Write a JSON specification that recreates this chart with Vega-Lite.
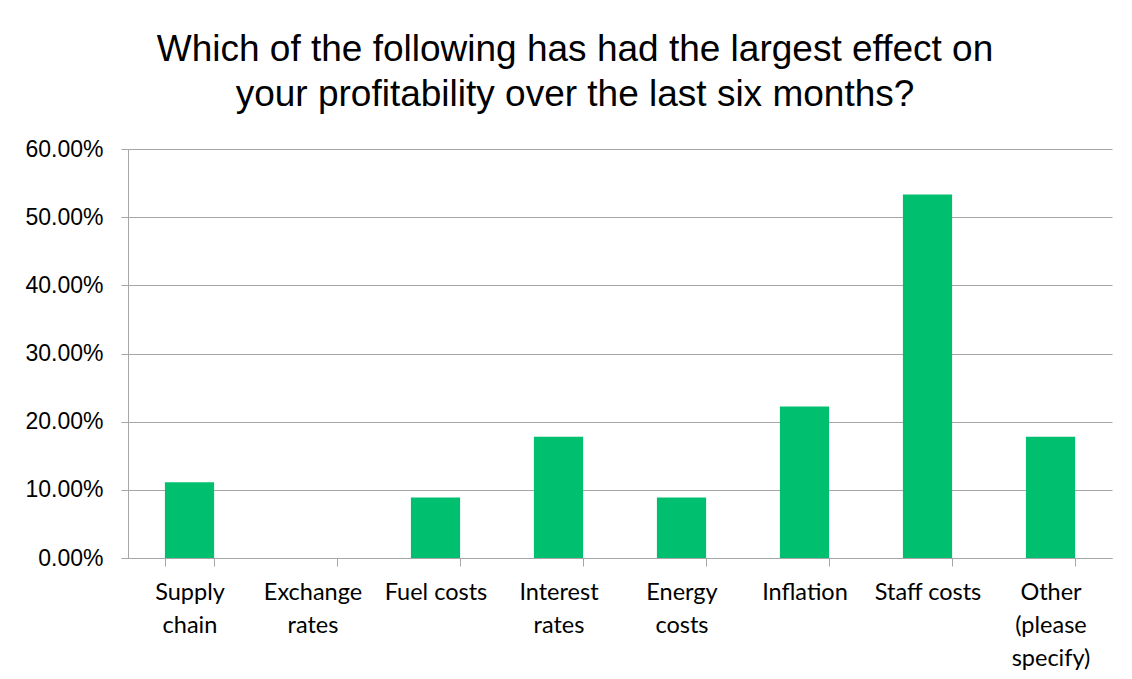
{
  "$schema": "https://vega.github.io/schema/vega-lite/v6.json",
  "width": 984,
  "height": 409,
  "autosize": {"type": "none"},
  "padding": {"left": 128, "top": 149, "right": 20, "bottom": 121},
  "background": "white",
  "title": {
    "text": "Which of the following has had the largest effect on",
    "subtitle": "your profitability over the last six months?",
    "font": "Liberation Sans",
    "fontSize": 37,
    "fontWeight": "normal",
    "color": "black",
    "subtitleFont": "Liberation Sans",
    "subtitleFontSize": 37,
    "subtitleColor": "black",
    "subtitlePadding": 8,
    "anchor": "middle",
    "frame": "group",
    "dx": -45,
    "offset": 24
  },
  "data": {
    "values": [
      {"factor": "Supply|chain", "share": 0.1111},
      {"factor": "Exchange|rates", "share": 0},
      {"factor": "Fuel costs", "share": 0.0889},
      {"factor": "Interest|rates", "share": 0.1778},
      {"factor": "Energy|costs", "share": 0.0889},
      {"factor": "Inflation", "share": 0.2222},
      {"factor": "Staff costs", "share": 0.5333},
      {"factor": "Other|(please|specify)", "share": 0.1778}
    ]
  },
  "mark": {"type": "bar", "color": "#00BF6F"},
  "encoding": {
    "x": {
      "field": "factor",
      "type": "nominal",
      "sort": null,
      "scale": {"paddingInner": 0.6, "paddingOuter": 0.3},
      "axis": {
        "title": null,
        "labelAngle": 0,
        "labelExpr": "split(datum.label, '|')",
        "labelFont": "Lato",
        "labelFontSize": 23.5,
        "labelColor": "black",
        "labelLineHeight": 33,
        "labelBaseline": "top",
        "labelPadding": 14,
        "labelLimit": 0,
        "tickBand": "extent",
        "tickSize": 8,
        "tickColor": "#a6a6a6",
        "domainColor": "#a6a6a6",
        "grid": false
      }
    },
    "y": {
      "field": "share",
      "type": "quantitative",
      "scale": {"domain": [0, 0.6], "nice": false},
      "axis": {
        "title": null,
        "values": [0, 0.1, 0.2, 0.3, 0.4, 0.5, 0.6],
        "format": ".2%",
        "labelFont": "Liberation Sans",
        "labelFontSize": 23,
        "labelColor": "black",
        "labelPadding": 18,
        "tickSize": 7,
        "tickColor": "#a6a6a6",
        "domainColor": "#a6a6a6",
        "gridColor": "#a6a6a6"
      }
    }
  },
  "config": {"view": {"stroke": null}}
}
